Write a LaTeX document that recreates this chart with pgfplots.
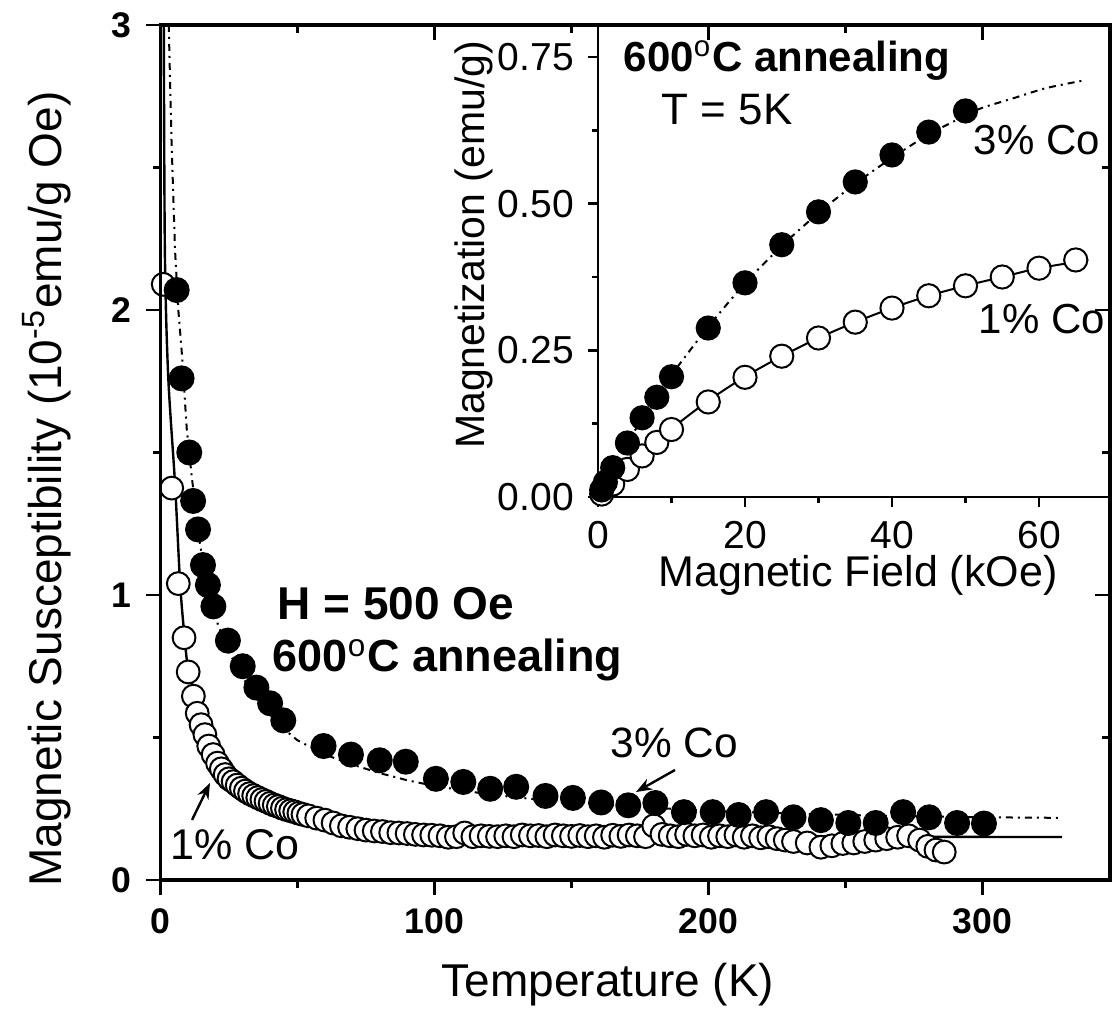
\documentclass[border=0pt]{standalone}
\usepackage{fontspec}
\setmainfont{Liberation Sans}
\usepackage{pgfplots}
\usepackage{pgfplotstable}
\pgfplotsset{compat=1.18}
\usetikzlibrary{arrows.meta}
\newcommand{\degsym}{{\normalfont\textsuperscript{o}}}

\pgfplotstableread{
T chi
5.9 2.07
7.7 1.76
10.5 1.50
11.9 1.33
13.7 1.23
15.5 1.105
17.3 1.035
19.3 0.96
24.6 0.84
30 0.75
35 0.675
40 0.62
44.8 0.56
59.5 0.47
69.5 0.44
80 0.42
89.5 0.415
100.5 0.355
110.5 0.344
120.3 0.32
129.8 0.327
140.5 0.295
150.5 0.288
160.8 0.272
170.7 0.262
180.6 0.27
191 0.238
201.5 0.238
211 0.228
221 0.238
231 0.22
241 0.21
251 0.20
261 0.20
271 0.238
280.5 0.22
290.7 0.20
300.5 0.198
}\threeData

\pgfplotstableread{
T chi
1.0 2.09
4.1 1.375
6.5 1.04
8.6 0.85
10.1 0.73
12.0 0.645
13.4 0.585
14.8 0.545
16.2 0.51
17.6 0.47
19.2 0.44
20.8 0.41
22.2 0.39
23.6 0.37
25 0.355
26.5 0.345
28 0.333
29.5 0.322
31 0.312
32.5 0.303
34 0.296
35.5 0.289
37 0.282
38.5 0.276
40 0.269
41.5 0.263
43 0.258
44.5 0.252
46 0.247
47.5 0.243
49 0.239
50.5 0.234
52 0.23
54 0.225
57 0.217
60 0.21
63 0.2
66 0.19
69 0.185
72 0.18
75 0.175
78 0.172
81 0.17
84 0.166
87 0.165
90 0.163
93 0.16
96 0.158
99 0.157
102 0.155
105 0.15
108 0.152
111 0.165
114 0.152
117 0.155
120 0.153
123 0.152
126 0.155
129 0.152
132 0.158
135 0.155
138 0.156
141 0.152
144 0.158
147 0.155
150 0.153
153 0.156
156 0.152
159 0.155
162 0.15
165 0.157
168 0.153
171 0.158
174 0.155
177 0.152
180 0.19
183 0.16
186 0.155
189 0.152
192 0.16
195 0.155
198 0.158
201 0.15
204 0.155
207 0.152
210 0.158
213 0.15
216 0.155
219 0.148
222 0.152
225 0.145
228 0.14
231 0.135
236 0.13
241 0.115
245 0.12
249 0.128
253 0.13
257 0.135
261 0.14
265 0.145
269 0.15
273 0.155
277 0.14
280 0.118
283 0.105
286 0.098
}\oneData

\pgfplotstableread{
T chi
3.0 3.0
4.0 2.6
5.3 2.21
6.5 2.0
7.7 1.86
9.6 1.58
11.4 1.415
14.4 1.18
17 1.03
21 0.895
25 0.80
30 0.71
35 0.64
40 0.58
45 0.53
50 0.49
60 0.44
70 0.405
80 0.375
90 0.35
100 0.33
120 0.30
140 0.28
160 0.265
180 0.253
200 0.243
230 0.233
260 0.226
300 0.22
329 0.218
}\threeFit

\pgfplotstableread{
T chi
1.2 3.0
1.6 2.2
2.8 1.77
5.3 1.39
7.1 1.05
8.5 0.88
10.1 0.737
12.6 0.656
16.9 0.503
20 0.45
24.2 0.398
28 0.36
32.7 0.327
38 0.30
44.7 0.28
50 0.262
57 0.246
69 0.222
80 0.205
100 0.185
120 0.173
140 0.166
160 0.161
200 0.156
250 0.153
300 0.151
329 0.151
}\oneFit

\pgfplotstableread{
H M
0.5 0.012
1 0.025
2 0.05
4 0.092
6 0.135
8 0.17
10 0.205
15 0.288
20 0.365
25 0.43
30 0.486
35 0.537
40 0.583
45 0.622
50 0.658
}\threeM

\pgfplotstableread{
H M
0.5 0.005
2 0.022
4 0.047
6 0.07
8 0.093
10 0.115
15 0.162
20 0.204
25 0.24
30 0.271
35 0.298
40 0.322
45 0.343
50 0.36
55 0.375
60 0.39
65 0.404
}\oneM

\pgfplotstableread{
H M
0 0
2.5 0.058
5 0.113
7.5 0.162
10 0.208
15 0.29
20 0.364
25 0.428
30 0.484
35 0.534
40 0.578
45 0.618
50 0.65
52.2 0.663
56.6 0.68
61 0.697
66.1 0.71
}\threeMFit

\pgfplotstableread{
H M
0 0
5 0.06
10 0.116
15 0.164
20 0.205
25 0.24
30 0.271
35 0.298
40 0.322
45 0.343
50 0.36
55 0.375
60 0.39
66.7 0.404
}\oneMFit

\begin{document}
\begin{tikzpicture}
\useasboundingbox (0,0) rectangle (278pt,253.5pt);

% ---------- main axis ----------
\begin{axis}[
  at={(40.125pt,33.5pt)}, anchor=south west,
  scale only axis, width=237.375pt, height=213.75pt,
  xmin=0, xmax=346.5, ymin=0, ymax=3,
  axis line style={line width=0.8pt},
  xtick={0,100,200,300}, minor xtick={50,150,250},
  ytick={0,1,2,3}, minor ytick={0.5,1.5,2.5},
  xtick pos=left, ytick pos=left,
  tick align=outside,
  major tick length=3.75pt, minor tick length=2pt,
  every tick/.append style={line width=0.7pt, black},
  ticklabel style={font=\bfseries\fontsize{8.9}{10}\selectfont},
  /pgf/number format/assume math mode=true,
]
\addplot[only marks, mark=*, mark size=2.85pt, mark options={fill=white, draw=black, line width=0.5pt}] table[x=T,y=chi] {\oneData};
\addplot[only marks, mark=*, mark size=3.05pt, mark options={fill=black, draw=black}] table[x=T,y=chi] {\threeData};
\addplot[black, line width=0.6pt, smooth] table[x=T,y=chi] {\oneFit};
\addplot[black, line width=0.5pt, dash pattern=on 1.75pt off 1.25pt on 0.5pt off 1.25pt] table[x=T,y=chi] {\threeFit};
\end{axis}

% ---------- inset ----------
\begin{axis}[
  at={(149.5pt,129.25pt)}, anchor=south west,
  scale only axis, width=128pt, height=118pt,
  xmin=0, xmax=69.66, ymin=0, ymax=0.8045,
  axis background/.style={fill=white},
  axis line style={line width=0.6pt},
  xtick={0,20,40,60}, minor xtick={10,30,50},
  ytick={0,0.25,0.5,0.75}, yticklabels={0.00,0.25,0.50,0.75},
  minor ytick={0.125,0.375,0.625},
  xtick pos=left, ytick pos=left,
  tick align=outside,
  major tick length=2.5pt, minor tick length=1.5pt,
  every tick/.append style={line width=0.6pt, black},
  ticklabel style={font=\fontsize{9.75}{11}\selectfont},
  /pgf/number format/assume math mode=true,
]
\addplot[only marks, mark=*, mark size=2.9pt, mark options={fill=white, draw=black, line width=0.5pt}] table[x=H,y=M] {\oneM};
\addplot[only marks, mark=*, mark size=2.95pt, mark options={fill=black, draw=black}] table[x=H,y=M] {\threeM};
\addplot[black, line width=0.5pt, smooth] table[x=H,y=M] {\oneMFit};
\addplot[black, line width=0.5pt, dash pattern=on 1.75pt off 1.25pt on 0.5pt off 1.25pt, smooth] table[x=H,y=M] {\threeMFit};
\end{axis}

% ---------- main top/right inward ticks ----------
\begin{axis}[
  at={(40.125pt,33.5pt)}, anchor=south west,
  scale only axis, width=237.375pt, height=213.75pt,
  xmin=0, xmax=346.5, ymin=0, ymax=3,
  axis line style={line width=0.8pt},
  xtick={0,100,200,300}, minor xtick={50,150,250},
  ytick={0,1,2,3}, minor ytick={0.5,1.5,2.5},
  xtick pos=right, ytick pos=right,
  tick align=inside,
  major tick length=3.75pt, minor tick length=2pt,
  every tick/.append style={line width=0.7pt, black},
  xticklabels={}, yticklabels={},
]
\end{axis}

% ---------- labels ----------
\node[anchor=base, font=\fontsize{11.5}{13}\selectfont] at (152pt,4.25pt) {Temperature (K)};
\node[anchor=base, rotate=90, font=\fontsize{11.5}{13}\selectfont] at (15.5pt,131.25pt) {Magnetic Susceptibility (10\textsuperscript{-5}emu/g Oe)};
\node[anchor=base, font=\fontsize{10.75}{12}\selectfont] at (214.5pt,106.75pt) {Magnetic Field (kOe)};
\node[anchor=base, rotate=90, font=\fontsize{10.25}{12}\selectfont] at (121pt,192.25pt) {Magnetization (emu/g)};

\node[anchor=base west, inner sep=0pt, font=\bfseries\fontsize{10.5}{12}\selectfont] at (155.75pt,235.5pt) {600\degsym C annealing};
\node[anchor=base west, inner sep=0pt, font=\fontsize{11}{12}\selectfont] at (165.25pt,222.25pt) {T = 5K};
\node[anchor=base west, inner sep=0pt, font=\fontsize{10.5}{12}\selectfont] at (243.25pt,214.75pt) {3\% Co};
\node[anchor=base west, inner sep=0pt, font=\fontsize{10.5}{12}\selectfont] at (244.5pt,170pt) {1\% Co};

\node[anchor=base west, inner sep=0pt, font=\bfseries\fontsize{11.5}{13}\selectfont] at (69.25pt,98.5pt) {H = 500 Oe};
\node[anchor=base west, inner sep=0pt, font=\bfseries\fontsize{11.25}{13}\selectfont] at (68pt,85.5pt) {600\degsym C annealing};
\node[anchor=base west, inner sep=0pt, font=\fontsize{10.6}{12}\selectfont] at (152.5pt,64pt) {3\% Co};
\node[anchor=base west, inner sep=0pt, font=\fontsize{10.75}{12}\selectfont] at (42.5pt,38.5pt) {1\% Co};

\draw[line width=0.6pt, -{Stealth[length=4pt,width=3pt]}] (168.75pt,61pt) -- (159pt,55.5pt);
\draw[line width=0.6pt, -{Stealth[length=4pt,width=3pt]}] (48pt,48.5pt) -- (52.5pt,57.75pt);
\end{tikzpicture}
\end{document}
